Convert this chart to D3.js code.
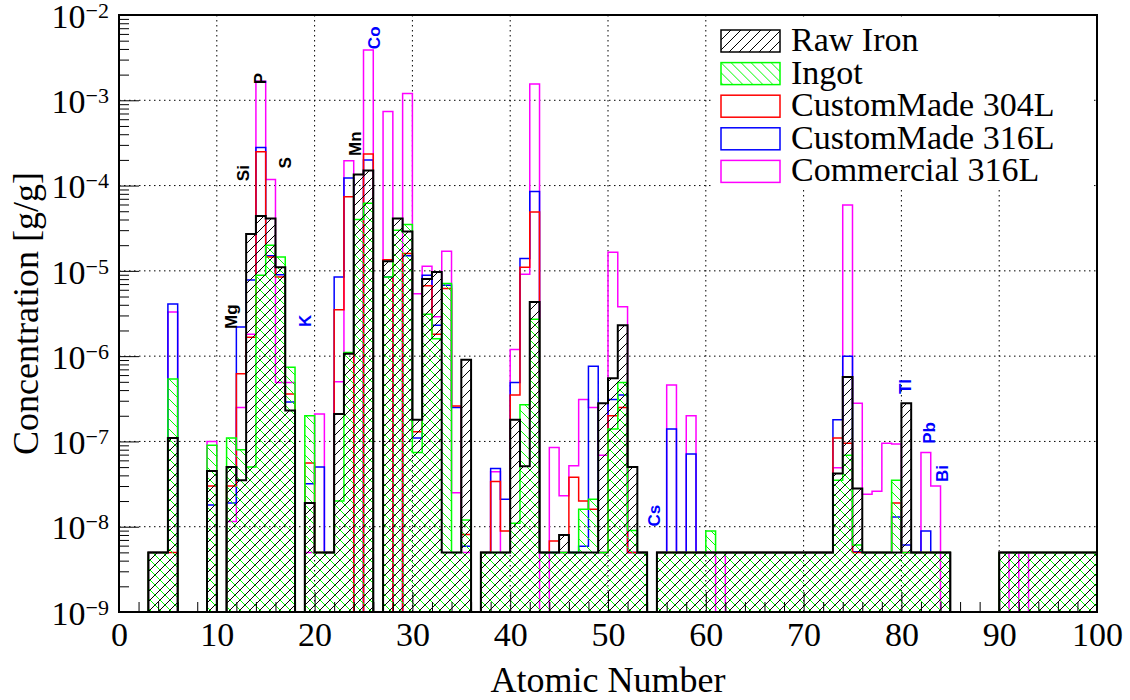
<!DOCTYPE html>
<html>
<head>
<meta charset="utf-8">
<script src="https://cdn.jsdelivr.net/npm/d3@7/dist/d3.min.js"></script>
<style>
  body { margin: 0; background: #fff; }
  svg { display: block; }
</style>
</head>
<body>
<svg id="chart" width="1130" height="700"></svg>
<script>
'use strict';

// one value per bin, bin i covers atomic number [i, i+1]; 0 = not measured
const rawIron = [
  0, 0, 0, 5e-9, 5e-9, 1.1e-7, 0, 0, 0, 4.5e-8,
  0, 5e-8, 3.5e-8, 2.7e-5, 4.4e-5, 4.1e-5, 1.1e-5, 2.3e-7, 0, 1.9e-8,
  5e-9, 5e-9, 2.1e-7, 1.07e-6, 1.35e-4, 1.5e-4, 0, 1.3e-5, 4.1e-5, 2.9e-5,
  1.8e-7, 8e-6, 9.7e-6, 5e-9, 5e-9, 9.1e-7, 0, 5e-9, 5e-9, 5e-9,
  1.8e-7, 5.1e-8, 4.3e-6, 5e-9, 5e-9, 8e-9, 5e-9, 5e-9, 5e-9, 2.8e-7,
  5.5e-7, 2.3e-6, 5e-8, 5e-9, 0, 5e-9, 5e-9, 5e-9, 5e-9, 5e-9,
  5e-9, 5e-9, 5e-9, 5e-9, 5e-9, 5e-9, 5e-9, 5e-9, 5e-9, 5e-9,
  5e-9, 5e-9, 5e-9, 4.2e-8, 5.7e-7, 2.8e-8, 5e-9, 5e-9, 5e-9, 5e-9,
  2.8e-7, 5e-9, 5e-9, 5e-9, 5e-9, 0, 0, 0, 0, 0,
  5e-9, 5e-9, 5e-9, 5e-9, 5e-9, 5e-9, 5e-9, 5e-9, 5e-9, 5e-9
];
const ingot = [
  0, 0, 0, 5e-9, 5e-9, 5.4e-7, 0, 0, 0, 9e-8,
  0, 1.1e-7, 8e-8, 5e-8, 8.9e-6, 2e-5, 1.45e-5, 7.4e-7, 0, 2e-7,
  5e-9, 5e-9, 2e-8, 1.1e-6, 4e-5, 6.2e-5, 0, 8.5e-6, 3e-5, 3.5e-5,
  7.4e-8, 3.1e-6, 1.6e-6, 7.1e-6, 5e-9, 1.2e-8, 0, 5e-9, 5e-9, 5e-9,
  1.1e-8, 2.7e-7, 2.7e-6, 5e-9, 5e-9, 5e-9, 5e-9, 1.6e-8, 2.1e-8, 5e-9,
  1.4e-7, 4.9e-7, 9e-9, 5e-9, 0, 5e-9, 5e-9, 5e-9, 5e-9, 5e-9,
  8.9e-9, 5e-9, 5e-9, 5e-9, 5e-9, 5e-9, 5e-9, 5e-9, 5e-9, 5e-9,
  5e-9, 5e-9, 5e-9, 3.5e-8, 6.9e-8, 6.1e-9, 5e-9, 5e-9, 5e-9, 3.5e-8,
  5e-9, 5e-9, 5e-9, 5e-9, 5e-9, 0, 0, 0, 0, 0,
  5e-9, 5e-9, 5e-9, 5e-9, 5e-9, 5e-9, 5e-9, 5e-9, 5e-9, 5e-9
];
const custom304L = [
  0, 0, 0, 5e-9, 5e-9, 5e-9, 0, 0, 0, 3e-8,
  0, 3e-8, 6.2e-7, 1.66e-6, 2.5e-4, 1.45e-5, 8.5e-6, 3.6e-7, 0, 5.6e-8,
  5e-9, 5e-9, 3.5e-6, 7.4e-5, 0, 2.35e-4, 0, 1.35e-5, 0, 1.6e-5,
  1.3e-7, 6.7e-6, 1.8e-6, 6.2e-6, 2.6e-7, 8.1e-9, 0, 5e-9, 3.4e-8, 8.9e-9,
  3.5e-7, 1.1e-5, 4.9e-5, 5e-9, 6.8e-9, 5e-9, 3.8e-8, 2e-8, 1.6e-8, 5e-9,
  2e-7, 2.5e-7, 5e-9, 5e-9, 0, 5e-9, 5e-9, 5e-9, 5e-9, 5e-9,
  5e-9, 5e-9, 5e-9, 5e-9, 5e-9, 5e-9, 5e-9, 5e-9, 5e-9, 5e-9,
  5e-9, 5e-9, 5e-9, 1.1e-7, 9.5e-8, 5e-9, 5e-9, 5e-9, 5e-9, 1.9e-8,
  5e-9, 5e-9, 5e-9, 5e-9, 5e-9, 0, 0, 0, 0, 0,
  5e-9, 5e-9, 5e-9, 5e-9, 5e-9, 5e-9, 5e-9, 5e-9, 5e-9, 5e-9
];
const custom316L = [
  0, 0, 0, 5e-9, 5e-9, 4.1e-6, 0, 0, 0, 1.8e-8,
  0, 1.9e-8, 2.2e-6, 7.8e-6, 2.8e-4, 1.5e-5, 9e-6, 2.9e-7, 0, 3.2e-8,
  5e-8, 5e-9, 8.5e-6, 1.23e-4, 0, 2.0e-4, 0, 8.5e-6, 0, 1.5e-5,
  1.1e-7, 8.9e-6, 2.3e-6, 6.8e-6, 2.5e-7, 5.9e-9, 0, 5e-9, 4.8e-8, 2.1e-8,
  4.9e-7, 1.4e-5, 8.5e-5, 5e-9, 5e-9, 5e-9, 5e-9, 5.9e-9, 7.6e-7, 5e-9,
  3.1e-7, 3.5e-7, 5e-9, 5e-9, 0, 5e-9, 1.4e-7, 5e-9, 7.1e-8, 5e-9,
  5e-9, 5e-9, 5e-9, 5e-9, 5e-9, 5e-9, 5e-9, 5e-9, 5e-9, 5e-9,
  5e-9, 5e-9, 5e-9, 1.8e-7, 1e-6, 5.1e-9, 5e-9, 5e-9, 5e-9, 1.3e-8,
  6.1e-9, 5e-9, 8.9e-9, 5e-9, 5e-9, 0, 0, 0, 0, 0,
  5e-9, 5e-9, 5e-9, 5e-9, 5e-9, 5e-9, 5e-9, 5e-9, 5e-9, 5e-9
];
const commercial316L = [
  0, 0, 0, 5e-9, 5e-9, 3.3e-6, 0, 0, 0, 1e-7,
  0, 1.15e-8, 2.5e-7, 1.8e-6, 1.67e-3, 1.18e-4, 4.9e-7, 4.9e-7, 0, 5e-9,
  2.1e-7, 5e-9, 5e-7, 1.96e-4, 0, 3.9e-3, 0, 7.4e-4, 0, 1.2e-3,
  5.4e-6, 1.13e-5, 2.9e-6, 1.7e-5, 2.5e-8, 5e-9, 0, 5e-9, 4.4e-8, 5e-9,
  1.2e-6, 9.1e-6, 1.55e-3, 0, 8.5e-8, 2.3e-8, 5.2e-8, 3.1e-7, 2.5e-7, 6.9e-8,
  1.65e-5, 3.8e-6, 5e-9, 5e-9, 0, 5e-9, 4.6e-7, 5e-9, 2e-7, 5e-9,
  5e-9, 0, 5e-9, 5e-9, 5e-9, 5e-9, 5e-9, 5e-9, 5e-9, 5e-9,
  5e-9, 5e-9, 5e-9, 4.9e-8, 5.9e-5, 2.8e-7, 2.4e-8, 2.6e-8, 9.5e-8, 9.3e-8,
  5e-9, 5e-9, 7.4e-8, 3e-8, 0, 0, 0, 0, 0, 0,
  5e-9, 0, 5e-9, 0, 0, 0, 0, 0, 0, 0
];

const seriesNames = ["Raw Iron", "Ingot", "CustomMade 304L", "CustomMade 316L", "Commercial 316L"];
const xTicks = [0, 10, 20, 30, 40, 50, 60, 70, 80, 90, 100];
const yTicks = [1e-9, 1e-8, 1e-7, 1e-6, 1e-5, 1e-4, 1e-3, 1e-2];

// element annotations: [symbol, atomic-number position, concentration position, colour]
const elementLabels = [
  ["Mg", 11.45, 2.9e-6, "#000"],
  ["Si", 12.7, 1.4e-4, "#000"],
  ["P", 14.4, 1.8e-3, "#000"],
  ["S", 17.0, 1.85e-4, "#000"],
  ["K", 19.0, 2.6e-6, "#00f"],
  ["Mn", 24.1, 3.1e-4, "#000"],
  ["Co", 26.1, 5.4e-3, "#00f"],
  ["Cs", 54.7, 1.35e-8, "#00f"],
  ["Tl", 80.4, 4.4e-7, "#00f"],
  ["Pb", 82.8, 1.26e-7, "#00f"],
  ["Bi", 84.2, 4.2e-8, "#00f"]
];

const margin = {left: 119, right: 1097, top: 15, bottom: 612};
const svg = d3.select("#chart");

const x = d3.scaleLinear().domain([0, 100]).range([margin.left, margin.right]);
const y = d3.scaleLog().domain([1e-9, 1e-2]).range([margin.bottom, margin.top]);

const defs = svg.append("defs");
defs.append("clipPath").attr("id", "plotClip")
  .append("rect")
  .attr("x", margin.left).attr("y", margin.top)
  .attr("width", margin.right - margin.left)
  .attr("height", margin.bottom - margin.top);

const hatch = (id, color, d) => {
  defs.append("pattern")
    .attr("id", id)
    .attr("patternUnits", "userSpaceOnUse")
    .attr("width", 10).attr("height", 10)
    .append("path")
    .attr("d", d)
    .attr("stroke", color)
    .attr("stroke-width", 1)
    .attr("fill", "none");
};
hatch("hatchBlack", "#000", "M-1,1 l2,-2 M0,10 l10,-10 M9,11 l2,-2");
hatch("hatchGreen", "#00ff00", "M-1,9 l2,2 M0,0 l10,10 M9,-1 l2,2");

// grid
const grid = svg.append("g").attr("class", "grid")
  .attr("stroke", "#000").attr("stroke-width", 1)
  .attr("stroke-dasharray", "1.5,3.5");
grid.selectAll("line.gx")
  .data(xTicks.slice(1, -1))
  .enter().append("line")
  .attr("x1", d => x(d)).attr("x2", d => x(d))
  .attr("y1", margin.top).attr("y2", margin.bottom);
grid.selectAll("line.gy")
  .data(yTicks.slice(1, -1))
  .enter().append("line")
  .attr("x1", margin.left).attr("x2", margin.right)
  .attr("y1", d => y(d)).attr("y2", d => y(d));

// histogram outline as steps through the scales
const stepPoints = (vals) => {
  const pts = [[x(0), y.range()[0]]];
  vals.forEach((v, i) => {
    const yy = v > 0 ? y(v) : y.range()[0];
    pts.push([x(i), yy], [x(i + 1), yy]);
  });
  pts.push([x(vals.length), y.range()[0]]);
  return pts;
};
const line = d3.line();

const hists = svg.append("g").attr("clip-path", "url(#plotClip)");

const series = [
  {vals: commercial316L, color: "#ff00ff", fill: "none", width: 1.5},
  {vals: custom316L, color: "#0000ff", fill: "none", width: 1.5},
  {vals: custom304L, color: "#ff0000", fill: "none", width: 1.5},
  {vals: ingot, color: "#00ff00", fill: "url(#hatchGreen)", width: 1.5},
  {vals: rawIron, color: "#000", fill: "url(#hatchBlack)", width: 2}
];

series.forEach(s => {
  const pts = stepPoints(s.vals);
  if (s.fill !== "none") {
    hists.append("path")
      .attr("d", line(pts) + "Z")
      .attr("fill", s.fill)
      .attr("stroke", "none");
  }
  hists.append("path")
    .attr("d", line(pts))
    .attr("fill", "none")
    .attr("stroke", s.color)
    .attr("stroke-width", s.width)
    .attr("stroke-linejoin", "miter");
});

// element labels
svg.append("g").selectAll("text")
  .data(elementLabels)
  .enter().append("text")
  .attr("transform", d => `translate(${x(d[1])},${y(d[2])}) rotate(-90)`)
  .attr("text-anchor", "middle")
  .attr("dy", "0.35em")
  .attr("font-family", "'Liberation Sans', Arial, sans-serif")
  .attr("font-weight", "bold")
  .attr("font-size", 17)
  .attr("fill", d => d[3])
  .text(d => d[0]);

// axes
const serif = "'Liberation Serif', 'Times New Roman', serif";

const xAxis = svg.append("g")
  .attr("transform", `translate(0,${margin.bottom})`)
  .call(d3.axisBottom(x).tickValues(xTicks).tickSizeInner(-20).tickSizeOuter(0).tickPadding(10));
svg.append("g")
  .attr("transform", `translate(0,${margin.bottom})`)
  .call(d3.axisBottom(x).tickValues(d3.range(0, 101, 2).filter(d => d % 10 !== 0))
    .tickSizeInner(-10).tickSizeOuter(0).tickFormat(""))
  .call(g => g.select(".domain").remove());
xAxis.select(".domain").remove();
xAxis.selectAll("text")
  .attr("font-family", serif).attr("font-size", 34).attr("fill", "#000");

const yAxis = svg.append("g")
  .attr("transform", `translate(${margin.left},0)`)
  .call(d3.axisLeft(y).tickValues(yTicks).tickSizeInner(-20).tickSizeOuter(0).tickPadding(10));
yAxis.select(".domain").remove();
yAxis.selectAll("text")
  .attr("font-family", serif).attr("font-size", 34).attr("fill", "#000")
  .attr("dy", "0.36em")
  .each(function (d) {
    const t = d3.select(this);
    t.text("");
    t.append("tspan").text("10");
    t.append("tspan")
      .attr("dy", -10)
      .attr("font-size", 22)
      .text("\u2212" + Math.round(-Math.log10(d)));
  });

const minorY = [];
yTicks.slice(0, -1).forEach(dec => {
  [2, 3, 4, 5, 6, 7, 8, 9].forEach(m => minorY.push(dec * m));
});
svg.append("g")
  .attr("transform", `translate(${margin.left},0)`)
  .call(d3.axisLeft(y).tickValues(minorY).tickSizeInner(-10).tickSizeOuter(0).tickFormat(""))
  .call(g => g.select(".domain").remove());

svg.selectAll(".tick line").attr("stroke", "#000").attr("stroke-width", 1);

// frame
svg.append("rect")
  .attr("x", margin.left).attr("y", margin.top)
  .attr("width", margin.right - margin.left)
  .attr("height", margin.bottom - margin.top)
  .attr("fill", "none").attr("stroke", "#000").attr("stroke-width", 2);

// titles
svg.append("text")
  .attr("x", (margin.left + margin.right) / 2).attr("y", 692)
  .attr("text-anchor", "middle")
  .attr("font-family", serif).attr("font-size", 36)
  .text("Atomic Number");
svg.append("text")
  .attr("transform", `translate(38,${(margin.top + margin.bottom) / 2}) rotate(-90)`)
  .attr("text-anchor", "middle")
  .attr("font-family", serif).attr("font-size", 36)
  .text("Concentration [g/g]");

// legend
const legend = svg.append("g");
legend.append("rect")
  .attr("x", 712).attr("y", 18).attr("width", 380).attr("height", 172)
  .attr("fill", "#fff");
const legendItems = [
  {color: "#000", fill: "url(#hatchBlack)"},
  {color: "#00ff00", fill: "url(#hatchGreen)"},
  {color: "#ff0000", fill: "#fff"},
  {color: "#0000ff", fill: "#fff"},
  {color: "#ff00ff", fill: "#fff"}
];
const li = legend.selectAll("g.item")
  .data(seriesNames)
  .enter().append("g")
  .attr("transform", (d, i) => `translate(721,${30 + i * 32.6})`);
li.append("rect")
  .attr("width", 59).attr("height", 22)
  .attr("fill", (d, i) => legendItems[i].fill)
  .attr("stroke", (d, i) => legendItems[i].color)
  .attr("stroke-width", 1.5);
li.append("text")
  .attr("x", 70).attr("y", 21)
  .attr("font-family", serif).attr("font-size", 34)
  .text(d => d);
</script>
</body>
</html>
